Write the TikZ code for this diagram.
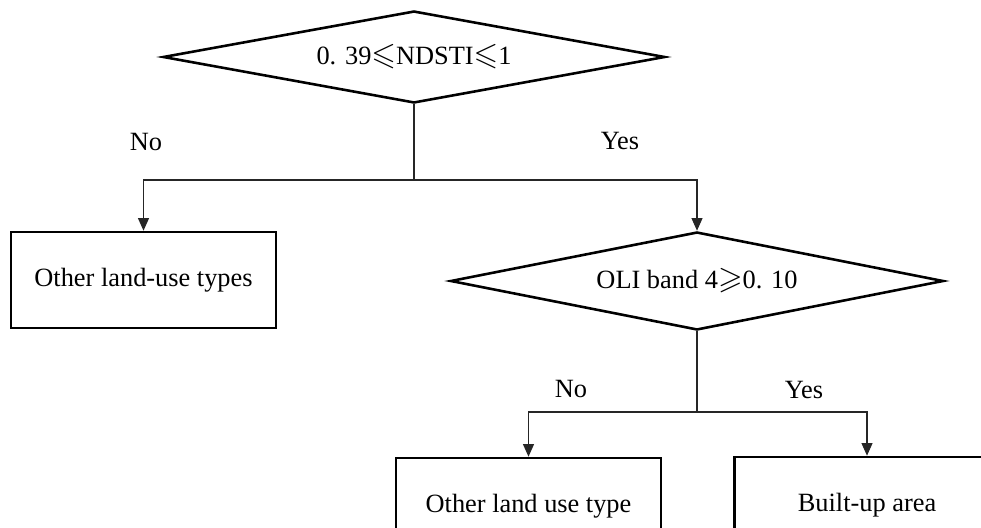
\documentclass[tikz,border=0pt]{standalone}
\usepackage{fontspec}
\usepackage{amssymb}
\setmainfont{Liberation Serif}
\usetikzlibrary{shapes.geometric,arrows.meta}

\newcommand{\leqs}{\scalebox{1.2}{$\leqslant$}}
\newcommand{\geqs}{\scalebox{1.2}{$\geqslant$}}

\begin{document}
\begin{tikzpicture}[x=0.03cm, y=-0.03cm,
    every node/.style={font=\fontsize{22.5}{27}\selectfont},
    test/.style={draw, line width=2.2pt, diamond, inner sep=0pt},
    result/.style={draw, line width=2.2pt, rectangle, minimum width=7.95cm, minimum height=2.88cm},
    link/.style={line width=1pt, black!85},
    arrow/.style={link, -{Triangle[width=0.33cm, length=0.38cm]}}]
    \useasboundingbox (0, 0) rectangle (981, 527);
    \clip (0, 0) rectangle (981, 527);

    \node [test, aspect=5.46, minimum width=15.06cm, minimum height=2.76cm] (ndsti) at (414, 57) {0. 39\leqs NDSTI\leqs 1};
    \node [test, aspect=5.03, minimum width=14.79cm, minimum height=2.94cm] (band) at (697, 281) {OLI band 4\geqs 0. 10};

    \node [result] (other) at (143.5, 280) {Other land-use types};
    \node [result] (otheruse) at (528.5, 506) {Other land use type};
    \node [result] (builtup) at (867, 505) {Built-up area};

    \coordinate (split1) at (414, 180);
    \coordinate (split2) at (697, 412);

    \draw [link] (ndsti.south) -- (split1);
    \draw [arrow] (split1) -| (other.north);
    \draw [arrow] (split1) -| (band.north);

    \draw [link] (band.south) -- (split2);
    \draw [arrow] (split2) -| (otheruse.north);
    \draw [arrow] (split2) -| (builtup.north);

    \node (no1) at (146, 142) {No};
    \node (yes1) at (620, 141) {Yes};
    \node (no2) at (571, 389) {No};
    \node (yes2) at (804, 390) {Yes};
\end{tikzpicture}
\end{document}
